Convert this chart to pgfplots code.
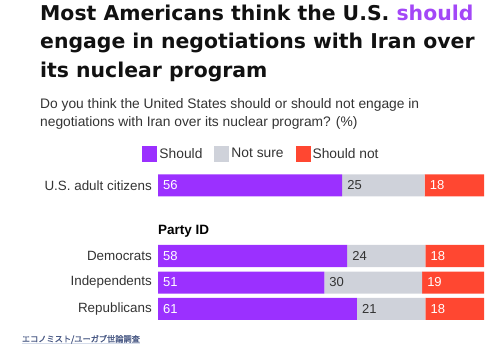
\documentclass[border=0pt]{standalone}
\usepackage{fontspec}
\setmainfont{Liberation Sans}
\newfontfamily\titlefont{DejaVu Sans Bold}
\newfontfamily\cjk{Noto Sans CJK JP}[FakeBold=1.2]
\usepackage{pgfplots}
\pgfplotsset{compat=1.18}
\definecolor{cpurple}{HTML}{9B30FF}
\definecolor{tpurple}{HTML}{A347F7}
\definecolor{cgrey}{HTML}{CFD2DA}
\definecolor{cred}{HTML}{FF4731}
\definecolor{titleblack}{HTML}{111111}
\definecolor{labeldark}{HTML}{333333}
\definecolor{footblue}{HTML}{4A5A85}
\definecolor{footline}{HTML}{D5DCEA}
\begin{document}
\begin{tikzpicture}[x=1pt,y=1pt]
\path[use as bounding box] (0,0) rectangle (500,348);
% title
\begin{scope}[every node/.style={anchor=base west, inner sep=0pt, text=titleblack, font=\titlefont\fontsize{20.4}{24}\selectfont}]
\node at (40,327.3) {Most Americans think the U.S. \textcolor{tpurple}{should}};
\node at (40,299.0) {engage in negotiations with Iran over};
\node at (40,270.7) {its nuclear program};
\end{scope}
% subtitle
\begin{scope}[every node/.style={anchor=base west, inner sep=0pt, text=labeldark, font=\fontsize{13.8}{17}\selectfont}]
\node at (40,239) {Do you think the United States should or should not engage in};
\node at (40,221.5) {negotiations with Iran over its nuclear program? (\%)};
\end{scope}
\node[anchor=base west, inner sep=0pt, font=\bfseries\fontsize{13.5}{16}\selectfont] at (158,113.5) {Party ID};
% footer
\draw[footline, line width=0.8pt] (21.7,4.5) -- (140,4.5);
\node[anchor=west, inner sep=0pt, text=footblue, font=\cjk\fontsize{8.2}{10}\selectfont] at (21.7,8.8) {エコノミスト/ユーガブ世論調査};
% bars
\begin{axis}[at={(158pt,0pt)}, anchor=south west, width=326pt, height=348pt, scale only axis,
  xmin=0, xmax=100, ymin=0, ymax=348, xbar stacked, bar width=22pt, clip=false,
  axis line style={draw=none}, xtick=\empty, major tick length=0pt,
  ytick={39.2,65.5,92,162.7},
  yticklabels={Republicans,Independents,Democrats,U.S. adult citizens},
  yticklabel style={font=\fontsize{13.4}{16}\selectfont, text=labeldark, inner sep=0pt, xshift=-6pt},
  legend columns=3,
  legend image code/.code={\fill[#1] (0pt,-7.8pt) rectangle (15pt,7.8pt);},
  legend style={at={(-0.0482,0.5575)}, anchor=west, draw=none, fill=none, inner sep=0pt,
    font=\fontsize{13.8}{16}\selectfont, text=labeldark,
    /tikz/every even column/.append style={column sep=10pt}},
  ]
\addplot[fill=cpurple, draw=none] coordinates {(56.5,162.7) (58,92) (51,65.5) (61,39.2)};
\addlegendentry{Should}
\addplot[fill=cgrey, draw=none] coordinates {(25.3,162.7) (24,92) (30,65.5) (21,39.2)};
\addlegendentry{Not sure}
\addplot[fill=cred, draw=none] coordinates {(18.2,162.7) (18,92) (19,65.5) (18,39.2)};
\addlegendentry{Should not}
\end{axis}
% value labels
\begin{axis}[at={(158pt,0pt)}, anchor=south west, width=326pt, height=348pt, scale only axis,
  xmin=0, xmax=100, ymin=0, ymax=348, hide axis, clip=false,
  nodes near coords, point meta=explicit symbolic, nodes near coords align=horizontal,
  every node near coord/.append style={anchor=west, inner sep=0pt, xshift=5pt, font=\fontsize{13}{15}\selectfont}]
\addplot[draw=none, every node near coord/.append style={text=white}] coordinates {(0,162.7) [56] (0,92) [58] (0,65.5) [51] (0,39.2) [61]};
\addplot[draw=none, every node near coord/.append style={text=labeldark}] coordinates {(56.5,162.7) [25] (58,92) [24] (51,65.5) [30] (61,39.2) [21]};
\addplot[draw=none, every node near coord/.append style={text=white}] coordinates {(81.8,162.7) [18] (82,92) [18] (81,65.5) [19] (82,39.2) [18]};
\end{axis}
\end{tikzpicture}
\end{document}
